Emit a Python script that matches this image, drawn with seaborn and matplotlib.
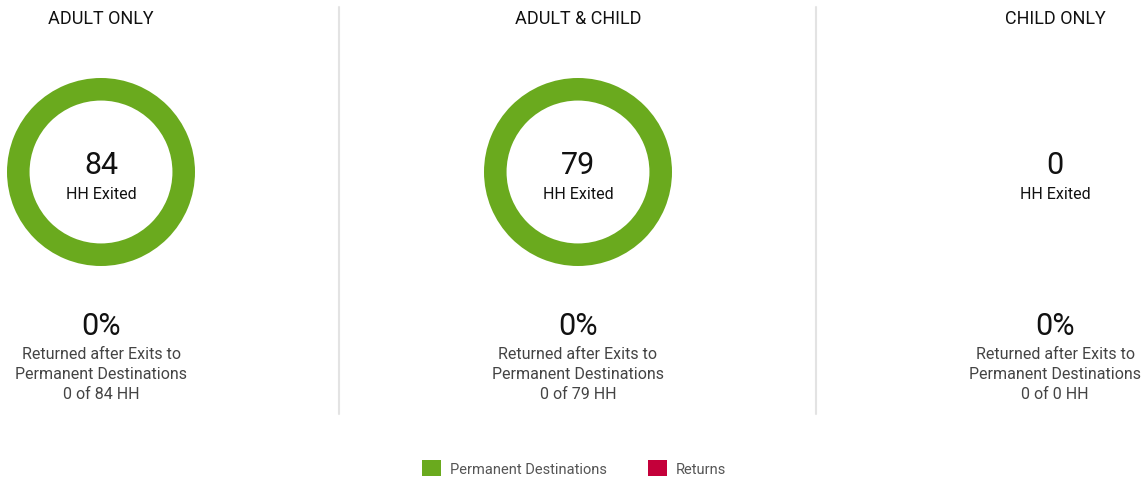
import seaborn as sns
import matplotlib.pyplot as plt
from matplotlib.lines import Line2D
from matplotlib.patches import Patch

# данные
groups = ["ADULT ONLY", "ADULT & CHILD", "CHILD ONLY"]
hh_exited = [84, 79, 0]
hh_returned = [0, 0, 0]
series_names = ["Permanent Destinations", "Returns"]
series_colors = ["#6aaa1e", "#c4003a"]

sns.set_theme(style="white")
plt.rcParams['font.family'] = ['Roboto', 'DejaVu Sans']

W, H = 1148, 481
fig = plt.figure(figsize=(W / 100, H / 100), dpi=100)

col_x = [101, 578, 1055]
donut_y = 173
radius = 94


def fx(px):
    return px / W


def fy(py):
    return 1 - py / H


for i, name in enumerate(groups):
    cx = col_x[i]
    fig.text(fx(cx), fy(19.5), name, ha='center', va='center', fontsize=13, color='#111111')

    ax = fig.add_axes([fx(cx - radius), fy(donut_y + radius), 2 * radius / W, 2 * radius / H])
    ax.set_xlim(-1, 1)
    ax.set_ylim(-1, 1)
    ax.set_aspect('equal')
    ax.axis('off')
    total = hh_exited[i]
    if total > 0:
        vals = [total - hh_returned[i], hh_returned[i]]
        ax.pie(vals, colors=series_colors, radius=1, startangle=90, counterclock=False,
               wedgeprops=dict(width=0.24, edgecolor='none'))
        ax.set_xlim(-1, 1)
        ax.set_ylim(-1, 1)

    fig.text(fx(cx), fy(166), str(total), ha='center', va='center', fontsize=22, color='#111111')
    fig.text(fx(cx), fy(194.5), "HH Exited", ha='center', va='center', fontsize=11.5, color='#111111')

    pct = 0 if total == 0 else round(100 * hh_returned[i] / total)
    fig.text(fx(cx), fy(327), f"{pct}%", ha='center', va='center', fontsize=22, color='#111111')
    fig.text(fx(cx), fy(354.5), "Returned after Exits to", ha='center', va='center', fontsize=11.5, color='#444444')
    fig.text(fx(cx), fy(374.5), "Permanent Destinations", ha='center', va='center', fontsize=11.5, color='#444444')
    fig.text(fx(cx), fy(394.5), f"{hh_returned[i]} of {total} HH", ha='center', va='center', fontsize=11.5, color='#444444')

# разделители
for sx in [339, 816]:
    fig.add_artist(Line2D([fx(sx), fx(sx)], [fy(8), fy(415)], color='#e3e3e3', lw=1.5))

handles = [Patch(facecolor=c, edgecolor='none') for c in series_colors]
fig.legend(handles, series_names, loc='center', bbox_to_anchor=(fx(574), fy(469)), ncol=2,
           frameon=False, fontsize=10.5, labelcolor='#555555', handlelength=1.3, handleheight=1.3,
           handletextpad=0.6, columnspacing=2.8)

plt.savefig('out.png', dpi=100)
